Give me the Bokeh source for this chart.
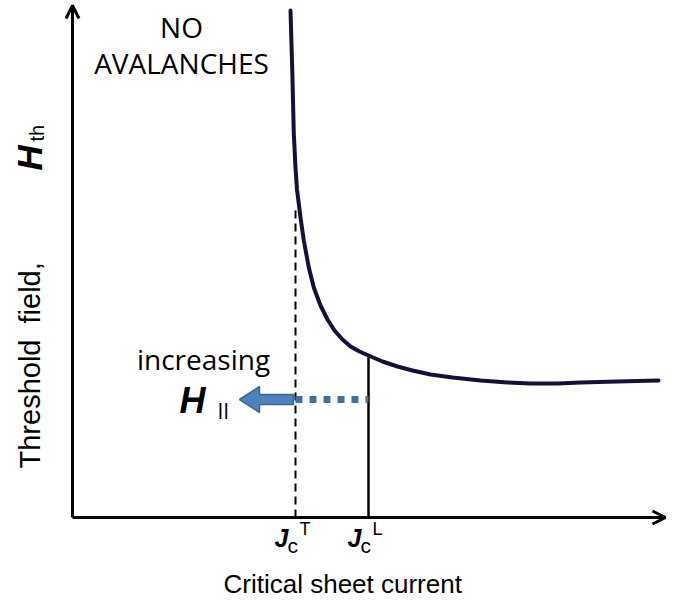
from bokeh.plotting import figure
from bokeh.models import Range1d, Arrow, OpenHead
from bokeh.embed import file_html
from bokeh.resources import INLINE
from bokeh.core.properties import value
import math

# Threshold curve H_th(Jc) (arbitrary units)
curve_jc = [218, 219.7, 221.3, 223, 224.5, 228, 231.3, 236.3, 241.3, 248, 255, 262, 270, 278, 287, 296, 310, 325, 340, 358, 380, 408, 435, 458, 485, 508, 545, 586]
curve_h = [507, 450, 384, 350, 328, 300, 277, 250, 230, 212, 198, 187, 178, 171, 166, 162, 156, 151, 147, 143, 140, 137, 135, 134, 134, 135, 136, 137]

# characteristic currents
jc_T = 223
jc_L = 296
h_at_T = 310
h_at_L = 162

# increasing H_parallel arrow
arrow_y = 118
arrow_tip = 167
arrow_tail = 221
head_len = 20
head_half = 13
body_half = 5

x_end = 593
y_end = 512

p = figure(width=677, height=600, output_backend="svg", toolbar_location=None,
           x_range=Range1d(-72, 605), y_range=Range1d(-83, 517), min_border=0)
p.axis.visible = False
p.grid.visible = False
p.outline_line_color = None
p.background_fill_color = "white"

# axes with arrows
p.add_layout(Arrow(end=OpenHead(size=13, line_width=3, line_color="black"),
                   x_start=0, y_start=0, x_end=0, y_end=y_end, line_width=3, line_color="black"))
p.add_layout(Arrow(end=OpenHead(size=13, line_width=3, line_color="black"),
                   x_start=0, y_start=0, x_end=x_end, y_end=0, line_width=3, line_color="black"))

# vertical markers
p.line([jc_T, jc_T], [0, h_at_T], line_width=2, line_color="black", line_dash="8 5")
p.line([jc_L, jc_L], [0, h_at_L], line_width=2.5, line_color="black")

# curve
p.line(curve_jc, curve_h, line_width=4, line_color="#121238", line_join="round", line_cap="round")

# dotted line and block arrow
p.line([jc_T, jc_L], [arrow_y, arrow_y], line_width=7, line_color="#41709f", line_dash="7 7")
hb = arrow_tip + head_len
ax = [arrow_tip, hb, hb, arrow_tail, arrow_tail, hb, hb]
ay = [arrow_y, arrow_y + head_half, arrow_y + body_half, arrow_y + body_half,
      arrow_y - body_half, arrow_y - body_half, arrow_y - head_half]
p.patch(ax, ay, fill_color="#4f81bd", line_color="#3a6595", line_width=1.5)

sans = value("Liberation Sans")
cal = value("Open Sans")

# texts
p.text([109], [491], text=["NO"], text_font=cal, text_font_size="28px",
       text_align="center", text_baseline="middle", text_color="black")
p.text([109], [455], text=["AVALANCHES"], text_font=cal, text_font_size="28px",
       text_align="center", text_baseline="middle", text_color="black")
p.text([131], [159], text=["increasing"], text_font=cal, text_font_size="28px",
       text_align="center", text_baseline="alphabetic", text_color="black")
p.text([107], [117], text=["H"], text_font=sans, text_font_size="36px", text_font_style="bold italic",
       text_align="left", text_baseline="alphabetic", text_color="black")
p.text([145], [107], text=["II"], text_font=cal, text_font_size="21px",
       text_align="left", text_baseline="alphabetic", text_color="black")

# J_c labels
for jx, sup in [(jc_T, "T"), (jc_L, "L")]:
    p.text([jx - 21], [-20], text=["J"], text_font=sans, text_font_size="25px", text_font_style="bold italic",
           text_align="left", text_baseline="alphabetic", text_color="black")
    p.text([jx - 8], [-28], text=["c"], text_font=sans, text_font_size="21px",
           text_align="left", text_baseline="alphabetic", text_color="black")
    p.text([jx + 4], [-11], text=[sup], text_font=sans, text_font_size="18px",
           text_align="left", text_baseline="alphabetic", text_color="black")

p.text([151], [-66], text=["Critical sheet current"], text_font=sans, text_font_size="26px",
       text_align="left", text_baseline="alphabetic", text_color="black")

# y label (rotated)
p.text([-43], [49], text=["Threshold"], text_font=sans, text_font_size="29px", angle=math.pi / 2,
       text_align="left", text_baseline="alphabetic", text_color="black")
p.text([-43], [194], text=["field,"], text_font=sans, text_font_size="29px", angle=math.pi / 2,
       text_align="left", text_baseline="alphabetic", text_color="black")
p.text([-43], [347], text=["H"], text_font=sans, text_font_size="35px", text_font_style="bold italic",
       angle=math.pi / 2, text_align="left", text_baseline="alphabetic", text_color="black")
p.text([-36], [376], text=["th"], text_font=sans, text_font_size="20px",
       angle=math.pi / 2, text_align="left", text_baseline="alphabetic", text_color="black")

open("out.html", "w").write(file_html(p, INLINE))
